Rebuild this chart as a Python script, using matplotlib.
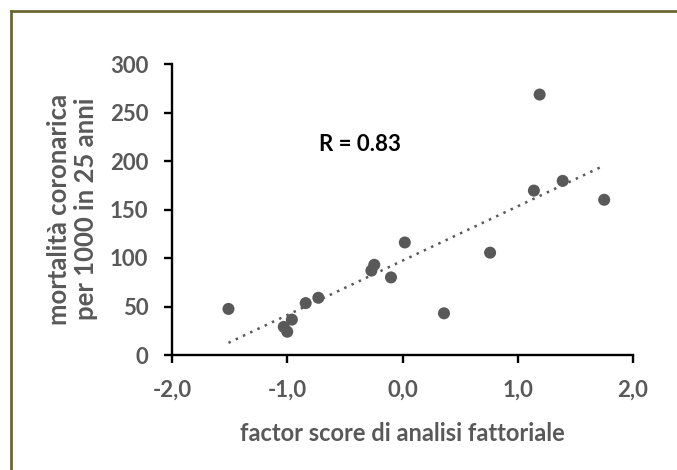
import numpy as np
import matplotlib
matplotlib.use("Agg")
import matplotlib.pyplot as plt
from matplotlib.lines import Line2D

# ---- data ----
factor_score = [-1.51, -1.03, -1.00, -0.96, -0.84, -0.73, -0.27, -0.245,
                -0.10, 0.02, 0.36, 0.76, 1.14, 1.19, 1.39, 1.75]
mortality = [47.5, 29, 24, 36.5, 53.5, 59, 87, 93,
             80, 116, 43, 105.5, 169.5, 268.5, 179.5, 160]
x_ticks = [-2.0, -1.0, 0.0, 1.0, 2.0]
x_tick_labels = ["-2,0", "-1,0", "0,0", "1,0", "2,0"]
y_ticks = [0, 50, 100, 150, 200, 250, 300]
r_text = "R = 0.83"
x_label = "factor score di analisi fattoriale"
y_label = "mortalità coronarica\nper 1000 in 25 anni"

W, H, DPI = 677, 470, 100
GRAY = "#595959"
FONT = ["Lato", "DejaVu Sans"]

plt.rcParams["font.family"] = FONT
plt.rcParams["font.weight"] = "bold"

fig = plt.figure(figsize=(W / DPI, H / DPI), dpi=DPI)
fig.patch.set_facecolor("white")

# olive frame (cropped at right and bottom)
frame_col = "#6b6833"
fig.add_artist(Line2D([10.5 / W, 1.05], [1 - 10.5 / H, 1 - 10.5 / H],
                      transform=fig.transFigure, color=frame_col, lw=2.0))
fig.add_artist(Line2D([10.5 / W, 10.5 / W], [-0.05, 1 - 10.5 / H],
                      transform=fig.transFigure, color=frame_col, lw=2.0))

ax = fig.add_axes([172 / W, (H - 355) / H, (633 - 172) / W, (355 - 64) / H])
ax.set_xlim(-2, 2)
ax.set_ylim(0, 300)

xs = np.array(factor_score)
ys = np.array(mortality)
ax.scatter(xs, ys, s=75, color=GRAY, edgecolors="none", zorder=3)

# linear trendline
k, b = np.polyfit(xs, ys, 1)
xl = np.array([xs.min(), xs.max()])
ax.plot(xl, k * xl + b, linestyle=(0, (1, 2.2)), color=GRAY, lw=1.8, zorder=2)

for s in ["top", "right"]:
    ax.spines[s].set_visible(False)
for s in ["left", "bottom"]:
    ax.spines[s].set_linewidth(1.7)
    ax.spines[s].set_color("black")

ax.set_xticks(x_ticks)
ax.set_xticklabels(x_tick_labels)
ax.set_yticks(y_ticks)
ax.tick_params(axis="both", direction="out", length=6, width=1.7,
               color="black", labelcolor=GRAY, labelsize=16)
ax.tick_params(axis="x", pad=12)
ax.tick_params(axis="y", pad=11)
for lab in ax.get_xticklabels() + ax.get_yticklabels():
    lab.set_fontweight("bold")

ax.text(-0.37, 217, r_text, ha="center", va="center", fontsize=16,
        fontweight="bold", color="black")

ax.text(0.5, (355 - 441) / (355 - 64), x_label, transform=ax.transAxes,
        ha="center", va="baseline", fontsize=17, fontweight="bold", color=GRAY)

fig.text(72.5 / W, 1 - 209 / H, y_label, rotation=90, ha="center", va="center",
         multialignment="center", fontsize=18.5, fontweight="bold", color=GRAY,
         linespacing=1.15)

fig.savefig("out.png", dpi=DPI, facecolor="white")
